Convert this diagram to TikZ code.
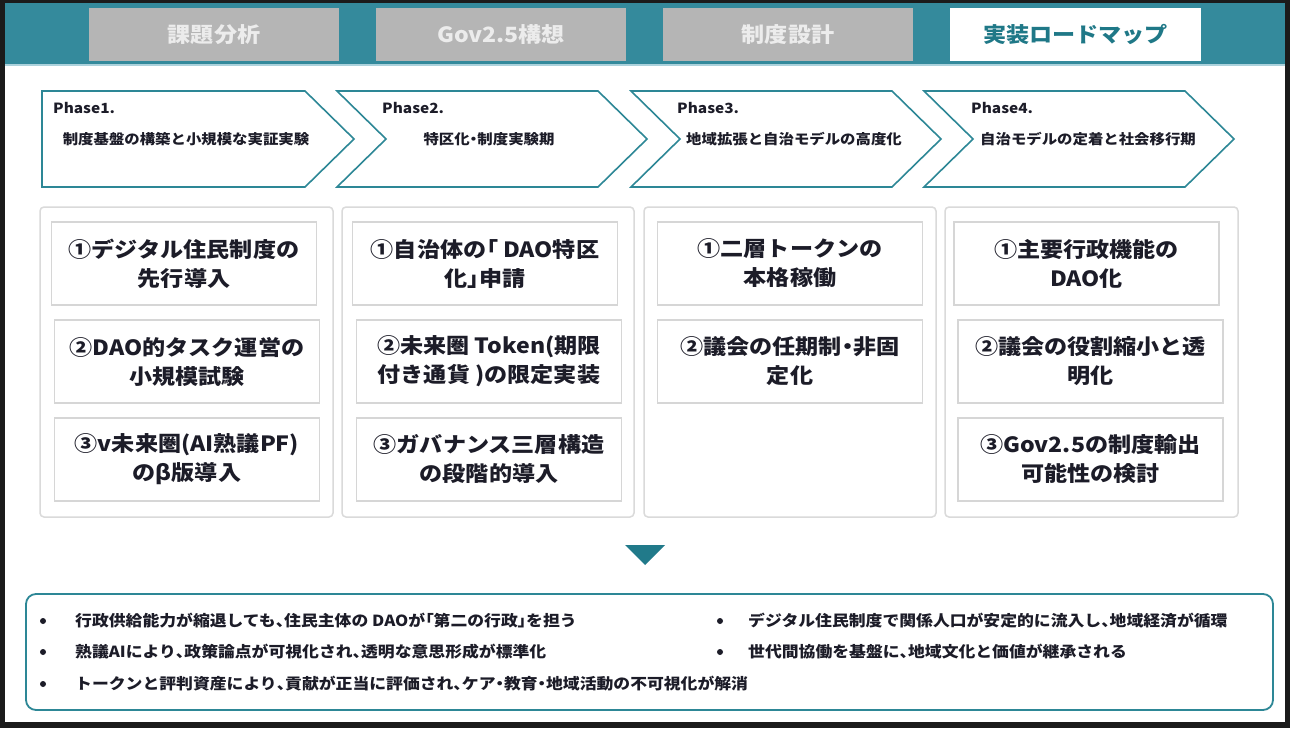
\documentclass[tikz,border=0pt]{standalone}
\usepackage{fontspec}
\setmainfont{Noto Sans CJK JP}[FakeStretch=1.1]
\newfontfamily\jpprop{Noto Sans CJK JP}[FakeStretch=1.1, CharacterWidth=AlternateProportional]
\newcommand\hw[1]{{\jpprop #1}}
\definecolor{headteal}{RGB}{52,138,156}
\definecolor{headline}{RGB}{172,210,220}
\definecolor{tealline}{RGB}{45,135,150}
\definecolor{tealdark}{RGB}{33,122,138}
\definecolor{tabgray}{RGB}{181,181,181}
\definecolor{tabtext}{RGB}{236,236,236}
\definecolor{tabteal}{RGB}{31,120,135}
\definecolor{ink}{RGB}{28,28,40}
\definecolor{framedark}{RGB}{27,27,27}
\definecolor{boxline}{RGB}{214,214,214}
\definecolor{colline}{RGB}{218,218,218}
\tikzset{
  tabbox/.style={fill=tabgray, minimum width=250pt, minimum height=53pt, inner sep=0pt,
    text=tabtext, font=\fontsize{21}{25}\selectfont\bfseries},
  chevron/.style={draw=tealline, fill=white, line width=1.6pt, line join=miter},
  phaselabel/.style={anchor=west, inner sep=0pt, text=ink, font=\fontsize{14}{16}\selectfont\bfseries},
  phasetext/.style={inner sep=0pt, text=ink, font=\fontsize{14}{16}\selectfont\bfseries},
  colbox/.style={draw=colline, line width=1.5pt, rounded corners=4pt},
  itembox/.style={draw=boxline, line width=1.8pt, fill=white, minimum width=265pt, minimum height=83pt,
    inner sep=0pt, align=center, text=ink, font=\fontsize{21}{29}\selectfont\bfseries},
  bullettext/.style={anchor=west, inner sep=0pt, text=ink, font=\fontsize{15.3}{17}\selectfont\bfseries},
  bulletdot/.style={circle, fill=ink, inner sep=0pt, minimum size=6pt}
}
\begin{document}
\begin{tikzpicture}[x=1pt,y=-1pt]
\useasboundingbox (0,0) rectangle (1290,728);
% frame and slide
\fill[framedark] (0,0) rectangle (1290,728);
\fill[white] (5,3) rectangle (1285,722);
\fill[headteal] (5,3) rectangle (1285,64);
\fill[headline] (5,64) rectangle (1285,66);
% tabs
\node[tabbox] (tab1) at (214,34.5) {課題分析};
\node[tabbox] (tab2) at (501,34.5) {Gov2.5構想};
\node[tabbox] (tab3) at (788,34.5) {制度設計};
\node[tabbox, fill=white, text=tabteal, minimum width=251pt] (tab4) at (1075.5,34.5) {実装ロードマップ};
% chevrons
\draw[chevron] (42,91) -- (305,91) -- (354,139) -- (305,187) -- (42,187) -- cycle;
\draw[chevron] (337,91) -- (598,91) -- (647,139) -- (598,187) -- (337,187) -- (386,139) -- cycle;
\draw[chevron] (631,91) -- (892,91) -- (941,139) -- (892,187) -- (631,187) -- (680,139) -- cycle;
\draw[chevron] (924,91) -- (1185,91) -- (1234,139) -- (1185,187) -- (924,187) -- (973,139) -- cycle;
\node[phaselabel] (p1l) at (53,108) {Phase1.};
\node[phaselabel] (p2l) at (382,108) {Phase2.};
\node[phaselabel] (p3l) at (677,108) {Phase3.};
\node[phaselabel] (p4l) at (971,108) {Phase4.};
\node[phasetext] (p1t) at (186,139) {制度基盤の構築と小規模な実証実験};
\node[phasetext] (p2t) at (489,139) {特区化\hw{・}制度実験期};
\node[phasetext] (p3t) at (794,139) {地域拡張と自治モデルの高度化};
\node[phasetext] (p4t) at (1088,139) {自治モデルの定着と社会移行期};
% columns
\draw[colbox] (40,207) rectangle (333,517);
\draw[colbox] (342,207) rectangle (634,517);
\draw[colbox] (644,207) rectangle (936,517);
\draw[colbox] (945,207) rectangle (1238,517);
% items
\node[itembox] (c1b1) at (184,263.5) {①デジタル住民制度の\\先行導入};
\node[itembox] (c1b2) at (187,361.5) {②DAO的タスク運営の\\小規模試験};
\node[itembox] (c1b3) at (187,459.5) {③v未来圏(AI熟議PF)\\のβ版導入};
\node[itembox] (c2b1) at (485,263.5) {①自治体の\hw{「} DAO特区\\化\hw{」}申請};
\node[itembox] (c2b2) at (489,361.5) {②未来圏 Token(期限\\付き通貨 )の限定実装};
\node[itembox] (c2b3) at (489,459.5) {③ガバナンス三層構造\\の段階的導入};
\node[itembox] (c3b1) at (790,263.5) {①二層トークンの\\本格稼働};
\node[itembox] (c3b2) at (790,361.5) {②議会の任期制\hw{・}非固\\定化};
\node[itembox] (c4b1) at (1086.5,263.5) {①主要行政機能の\\DAO化};
\node[itembox] (c4b2) at (1090.5,361.5) {②議会の役割縮小と透\\明化};
\node[itembox] (c4b3) at (1090.5,459.5) {③Gov2.5の制度輸出\\可能性の検討};
% down triangle
\fill[tealdark] (625,545) -- (665,545) -- (645,565) -- cycle;
% summary box
\draw[draw=tealline, line width=1.8pt, rounded corners=10pt] (26,594) rectangle (1273,710);
\node[bulletdot] (d1) at (43,621) {};
\node[bulletdot] (d2) at (43,652) {};
\node[bulletdot] (d3) at (43,684) {};
\node[bulletdot] (d4) at (720,621) {};
\node[bulletdot] (d5) at (720,652) {};
\node[bullettext] (s1) at (75,621) {行政供給能力が縮退しても\hw{、}住民主体の DAOが\hw{「}第二の行政\hw{」}を担う};
\node[bullettext] (s2) at (75,652) {熟議AIにより\hw{、}政策論点が可視化され\hw{、}透明な意思形成が標準化};
\node[bullettext] (s3) at (75,684) {トークンと評判資産により\hw{、}貢献が正当に評価され\hw{、}ケア\hw{・}教育\hw{・}地域活動の不可視化が解消};
\node[bullettext] (s4) at (748,621) {デジタル住民制度で関係人口が安定的に流入し\hw{、}地域経済が循環};
\node[bullettext] (s5) at (748,652) {世代間協働を基盤に\hw{、}地域文化と価値が継承される};
\end{tikzpicture}
\end{document}
